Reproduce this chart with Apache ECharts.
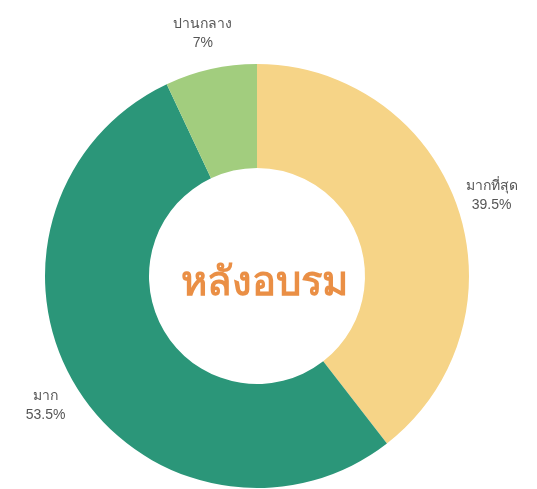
<!DOCTYPE html>
<html>
<head>
<meta charset="utf-8">
<script src="https://cdn.jsdelivr.net/npm/echarts@6/dist/echarts.min.js"></script>
<style>
html,body{margin:0;padding:0;background:#fff;}
#chart{width:537px;height:489px;}
</style>
</head>
<body>
<div id="chart"></div>
<script>
// Satisfaction levels after training (percent)
const categories = ['มากที่สุด', 'มาก', 'ปานกลาง'];
const values = [39.5, 53.5, 7];
const colors = ['#F6D487', '#2B9679', '#A2CD7E'];
const centerTitle = 'หลังอบรม';

const chart = echarts.init(document.getElementById('chart'));
chart.setOption({
  animation: false,
  color: colors,
  title: {
    text: centerTitle,
    left: 259,
    top: 279,
    textAlign: 'center',
    textVerticalAlign: 'middle',
    textStyle: {
      color: '#EA8F45',
      fontSize: 40,
      fontWeight: 'bold',
      fontFamily: 'sans-serif'
    }
  },
  series: [{
    type: 'pie',
    center: [257, 276],
    radius: [108, 212],
    startAngle: 90,
    clockwise: true,
    avoidLabelOverlap: false,
    data: categories.map((c, i) => ({ name: c, value: values[i] })),
    label: {
      show: true,
      position: 'outside',
      formatter: p => p.name + '\n' + p.value + '%',
      color: '#555',
      fontSize: 14,
      lineHeight: 19,
      distanceToLabelLine: 0
    },
    labelLine: { show: false, length: 36, length2: 0 },
    labelLayout: { align: 'center', verticalAlign: 'middle' },
    itemStyle: { borderWidth: 0 }
  }]
});
</script>
</body>
</html>
